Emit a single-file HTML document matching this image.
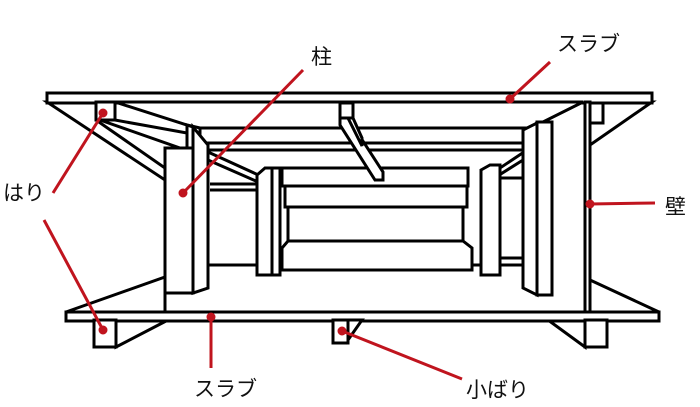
<!DOCTYPE html>
<html><head><meta charset="utf-8"><style>
html,body{margin:0;padding:0;background:#fff;}
svg{display:block}
text{font-family:"Liberation Sans","Noto Sans CJK JP",sans-serif;font-size:21px;fill:#111}
</style></head><body>
<svg width="700" height="407" viewBox="0 0 700 407" xmlns="http://www.w3.org/2000/svg">
<g fill="#fff" stroke="#000" stroke-width="3" stroke-linejoin="miter">
<!-- left taper top -->
<polygon points="47,102 96,102 96,120 165,168 165,180"/>
<!-- right taper top -->
<polygon points="652,102 603,102 603,123 590,123 590,145"/>
<!-- bottom tapers -->
<polygon points="66,312 165,277 165,312"/>
<polygon points="116,347 168,320 116,320"/>
<polygon points="659,312 590,280 590,312"/>
<polygon points="585,347 548,320 585,320"/>
<!-- top slab -->
<rect x="47" y="93" width="605" height="10"/>
<!-- left top beam -->
<polygon points="96,102 115,102 115,120 96,120"/>
<!-- ceiling inner perspective -->
<polygon points="115,102 583,102 543,122 537,122 533,128 200,128 187,125 115,102"/>
<!-- left beam diag -->
<polygon points="100,120 115,120 187,133 187,148 180,148"/>
<!-- second frame -->
<rect x="200" y="128" width="333" height="15"/>
<polygon points="200,143 533,143 527,150 208,150"/>
<!-- back wall big -->
<rect x="208" y="150" width="315" height="115"/>
<polygon points="208,152 265,178 265,185 208,160"/>
<polygon points="527,150 488,176 488,182 523,160"/>
<line x1="210" y1="184" x2="257" y2="184"/><line x1="210" y1="190" x2="257" y2="190"/>
<line x1="500" y1="178" x2="523" y2="178"/><line x1="500" y1="258" x2="523" y2="258"/>
<!-- inner box -->
<rect x="282" y="168" width="186" height="18"/>
<rect x="285" y="186" width="182" height="21"/>
<rect x="288" y="207" width="175" height="34"/>
<polygon points="288,241 463,241 472,248 472,270 282,270 282,248"/>
<!-- center beam (on top) -->
<polygon points="340,103 353,103 353,118 340,118"/>
<polygon points="340,118 348,118 383,172 383,180 375,180 340,125"/>
<polygon points="348,118 353,118 362,138 362,146"/>
<!-- columns second -->
<polygon points="257,175 265,168 272,168 272,275 257,275"/>
<rect x="272" y="168" width="8" height="107"/>
<polygon points="481,170 490,165 500,165 500,275 481,275"/>
<!-- left big column -->
<polygon points="193,127 208,145 208,288 193,293"/>
<rect x="165" y="148" width="28" height="145"/>
<polygon points="187,125 193,127 193,148 187,148"/>
<!-- right big column -->
<polygon points="523,130 537,123 537,295 523,288"/>
<rect x="537" y="122" width="15" height="173"/>
<!-- wall -->
<rect x="585" y="102" width="5" height="210"/>
<!-- bottom slab -->
<rect x="66" y="312" width="593" height="9"/>
<rect x="94" y="320" width="22" height="27"/>
<rect x="585" y="320" width="22" height="27"/>
<rect x="333" y="320" width="15" height="23"/>
<polygon points="348,320 362,320 348,340"/>
</g>
<g stroke="#c0141e" stroke-width="3" fill="#c0141e">
<line x1="303" y1="70" x2="183" y2="193"/><circle cx="183" cy="193" r="3"/>
<line x1="550" y1="62" x2="510" y2="99"/><circle cx="510" cy="99" r="3"/>
<line x1="655" y1="203" x2="590" y2="204"/><circle cx="590" cy="204" r="3"/>
<line x1="53" y1="193" x2="103" y2="113"/><circle cx="103" cy="113" r="3"/>
<line x1="44" y1="220" x2="103" y2="330"/><circle cx="103" cy="330" r="3"/>
<line x1="211" y1="368" x2="211" y2="317"/><circle cx="211" cy="317" r="3"/>
<line x1="462" y1="379" x2="342" y2="331"/><circle cx="342" cy="331" r="3"/>
</g>
<text x="311" y="64">柱</text>
<text x="557" y="51">スラブ</text>
<text x="665" y="214">壁</text>
<text x="3" y="200">はり</text>
<text x="194" y="396">スラブ</text>
<text x="466" y="397">小ばり</text>
</svg>
</body></html>
